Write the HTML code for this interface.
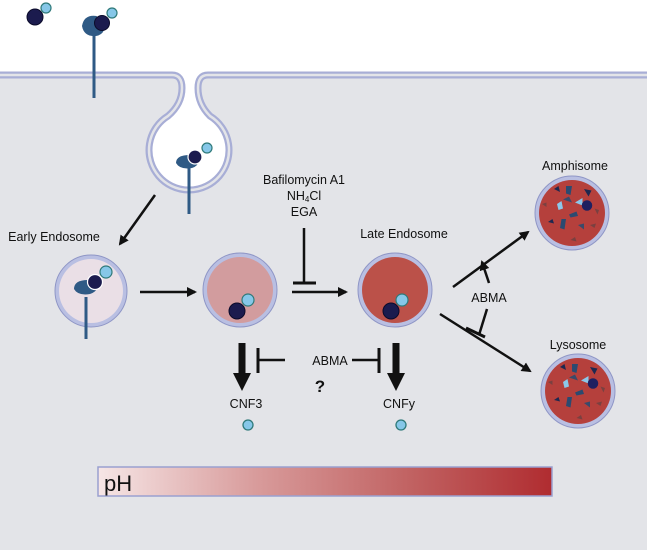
<!DOCTYPE html>
<html><head><meta charset="utf-8"><style>
html,body{margin:0;padding:0;background:#fff}
svg{display:block;font-family:"Liberation Sans",sans-serif}
</style></head><body>
<svg width="647" height="550" viewBox="0 0 647 550" xmlns="http://www.w3.org/2000/svg">
<defs>
<marker id="ah" markerWidth="10" markerHeight="10" refX="8" refY="5" orient="auto" markerUnits="userSpaceOnUse" viewBox="0 0 10 10"><path d="M0,0 L10,5 L0,10 z" fill="#111"/></marker>
<marker id="ahb" markerWidth="18" markerHeight="18" refX="2" refY="9" orient="auto" markerUnits="userSpaceOnUse" viewBox="0 0 18 18"><path d="M0,0 L18,9 L0,18 z" fill="#111"/></marker>
<linearGradient id="ph" x1="0" x2="1"><stop offset="0" stop-color="#f6e6e6"/><stop offset="0.35" stop-color="#d89b9b"/><stop offset="0.7" stop-color="#c06060"/><stop offset="1" stop-color="#b02c30"/></linearGradient>
<g id="frag">
<path d="M-12,-14 l3,-2 1,4z" fill="#1e2850"/><path d="M-4,-16 l4,0 -1,6 -3,-1z" fill="#2b4a70"/><path d="M8,-14 l5,1 -2,4z" fill="#1e2850"/>
<path d="M-6,-7 l4,-2 2,4z" fill="#3a4a6a"/><path d="M-10,-4 l3,-2 1,5 -3,1z" fill="#8cc8ea"/><path d="M2,-5 l5,-3 0,5z" fill="#8cc8ea"/>
<circle cx="10" cy="-3" r="3.5" fill="#1e2060"/><path d="M15,-1 l3,1 -1,3z" fill="#7a4040"/><path d="M-20,-4 l3,-1 0,3z" fill="#7a4040"/>
<path d="M-2,3 l5,-2 1,3 -5,1z" fill="#2b4a70"/><path d="M-16,8 l3,-2 1,3z" fill="#1e2850"/><path d="M-7,6 l3,0 -1,7 -3,-1z" fill="#2b4a70"/>
<path d="M4,10 l4,-1 0,4z" fill="#3a4a6a"/><path d="M12,10 l4,-1 -1,3z" fill="#7a4040"/><path d="M-1,20 l3,-2 1,3z" fill="#7a4040"/>
</g>
</defs>
<rect x="0" y="0" width="647" height="550" fill="#fff"/>
<path d="M0,75 H172 Q182,75 182,88 Q182,104 168,116 A40,40 0 1 0 210,116 Q198,104 198,88 Q198,75 208,75 H647 V550 H0 Z" fill="#e3e4e8"/>
<circle cx="189" cy="150" r="37" fill="#fff"/>
<rect x="184" y="76" width="12" height="45" fill="#fff"/>
<path d="M0,75 H172 Q182,75 182,88 Q182,104 168,116 A40,40 0 1 0 210,116 Q198,104 198,88 Q198,75 208,75 H647" fill="none" stroke="#a8aed6" stroke-width="7"/>
<path d="M0,75 H172 Q182,75 182,88 Q182,104 168,116 A40,40 0 1 0 210,116 Q198,104 198,88 Q198,75 208,75 H647" fill="none" stroke="#e3e4e8" stroke-width="2.5"/>
<!-- free ligands -->
<circle cx="35" cy="17" r="8" fill="#1b1b4e" stroke="#0b0b2a"/><circle cx="46" cy="8" r="5" fill="#86c7e8" stroke="#2f7a7a" stroke-width="1.2"/>
<line x1="94" y1="36" x2="94" y2="98" stroke="#2f5a85" stroke-width="3"/>
<path d="M97,16 Q84,14 82,26 Q84,37 96,36 Q102,35 104,30 Q93,28 97,16Z" fill="#2f5a85"/>
<circle cx="102" cy="23" r="7.5" fill="#1b1b4e" stroke="#0b0b2a"/><circle cx="112" cy="13" r="5" fill="#86c7e8" stroke="#2f7a7a" stroke-width="1.2"/>
<!-- pit receptor -->
<line x1="189" y1="166" x2="189" y2="214" stroke="#2f5a85" stroke-width="3"/>
<path d="M190,155 Q176,155 176,163 Q180,170 192,168 Q198,166 198,162Z" fill="#2f5a85"/>
<circle cx="195" cy="157" r="7" fill="#1b1b4e" stroke="#fff" stroke-width="1.2"/><circle cx="207" cy="148" r="5" fill="#86c7e8" stroke="#2f7a7a" stroke-width="1.2"/>
<!-- text top -->
<g font-size="12.5" fill="#111" text-anchor="middle">
<text x="304" y="184">Bafilomycin A1</text>
<text x="304" y="200">NH<tspan font-size="8" dy="2">4</tspan><tspan dy="-2">Cl</tspan></text>
<text x="304" y="216">EGA</text>
<text x="404" y="238">Late Endosome</text>
<text x="575" y="170">Amphisome</text>
<text x="578" y="349">Lysosome</text>
<text x="54" y="241">Early Endosome</text>
<text x="489" y="302">ABMA</text>
<text x="330" y="365">ABMA</text>
<text x="246" y="408">CNF3</text>
<text x="399" y="408">CNFy</text>
</g>
<text x="320" y="392" font-size="17" font-weight="bold" text-anchor="middle" fill="#111">?</text>
<!-- early endosome -->
<circle cx="91" cy="291" r="36" fill="#b9bfe2" stroke="#8f96c6" stroke-width="1"/>
<circle cx="91" cy="291" r="32" fill="#eadfe6"/>
<line x1="86" y1="297" x2="86" y2="339" stroke="#2f5a85" stroke-width="3"/>
<path d="M88,280 Q74,280 74,289 Q78,296 90,294 Q96,292 97,288Z" fill="#2f5a85"/>
<circle cx="95" cy="282" r="7.5" fill="#1b1b4e" stroke="#fff" stroke-width="1.2"/><circle cx="106" cy="272" r="6" fill="#86c7e8" stroke="#2f7a7a" stroke-width="1.2"/>
<!-- second -->
<circle cx="240" cy="290" r="37" fill="#b9bfe2" stroke="#8f96c6"/>
<circle cx="240" cy="290" r="33" fill="#d29c9e"/>
<circle cx="237" cy="311" r="8" fill="#1b1b4e" stroke="#0b0b2a"/><circle cx="248" cy="300" r="6" fill="#86c7e8" stroke="#2f7a7a" stroke-width="1.2"/>
<!-- late -->
<circle cx="395" cy="290" r="37" fill="#b9bfe2" stroke="#8f96c6"/>
<circle cx="395" cy="290" r="33" fill="#bb5149"/>
<circle cx="391" cy="311" r="8" fill="#1b1b4e" stroke="#0b0b2a"/><circle cx="402" cy="300" r="6" fill="#86c7e8" stroke="#2f7a7a" stroke-width="1.2"/>
<!-- amphisome / lysosome -->
<circle cx="572" cy="213" r="37" fill="#b9bfe2" stroke="#8f96c6"/><circle cx="572" cy="213" r="33" fill="#b5403c"/>
<use href="#frag" transform="translate(572,210) scale(1.5)"/>
<circle cx="578" cy="391" r="37" fill="#b9bfe2" stroke="#8f96c6"/><circle cx="578" cy="391" r="33" fill="#b5403c"/>
<use href="#frag" transform="translate(578,388) scale(1.5)"/>
<!-- arrows -->
<g stroke="#111" stroke-width="2.5" fill="none">
<line x1="155" y1="195" x2="120" y2="244" marker-end="url(#ah)"/>
<line x1="140" y1="292" x2="195" y2="292" marker-end="url(#ah)"/>
<line x1="292" y1="292" x2="346" y2="292" marker-end="url(#ah)"/>
<line x1="304" y1="228" x2="304" y2="283"/><line x1="293" y1="283" x2="316" y2="283" stroke-width="3"/>
<line x1="453" y1="287" x2="528" y2="232" marker-end="url(#ah)"/>
<line x1="440" y1="314" x2="530" y2="371" marker-end="url(#ah)"/>
<line x1="489" y1="283" x2="482" y2="262" marker-end="url(#ah)"/>
<line x1="487" y1="309" x2="479" y2="335"/><line x1="466" y1="328" x2="485" y2="337" stroke-width="3"/>
<line x1="285" y1="360" x2="258" y2="360"/><line x1="258" y1="348" x2="258" y2="373" stroke-width="3"/>
<line x1="352" y1="360" x2="378" y2="360"/><line x1="379" y1="348" x2="379" y2="373" stroke-width="3"/>
</g>
<g stroke="#111" stroke-width="7">
<line x1="242" y1="343" x2="242" y2="375" marker-end="url(#ahb)"/>
<line x1="396" y1="343" x2="396" y2="375" marker-end="url(#ahb)"/>
</g>
<circle cx="248" cy="425" r="5" fill="#86c7e8" stroke="#2f7a7a" stroke-width="1.3"/>
<circle cx="401" cy="425" r="5" fill="#86c7e8" stroke="#2f7a7a" stroke-width="1.3"/>
<!-- pH bar -->
<rect x="98" y="467" width="454" height="29" fill="url(#ph)" stroke="#9aa0d0" stroke-width="1.5"/>
<text x="104" y="491" font-size="22" fill="#111">pH</text>
</svg>
</body></html>
